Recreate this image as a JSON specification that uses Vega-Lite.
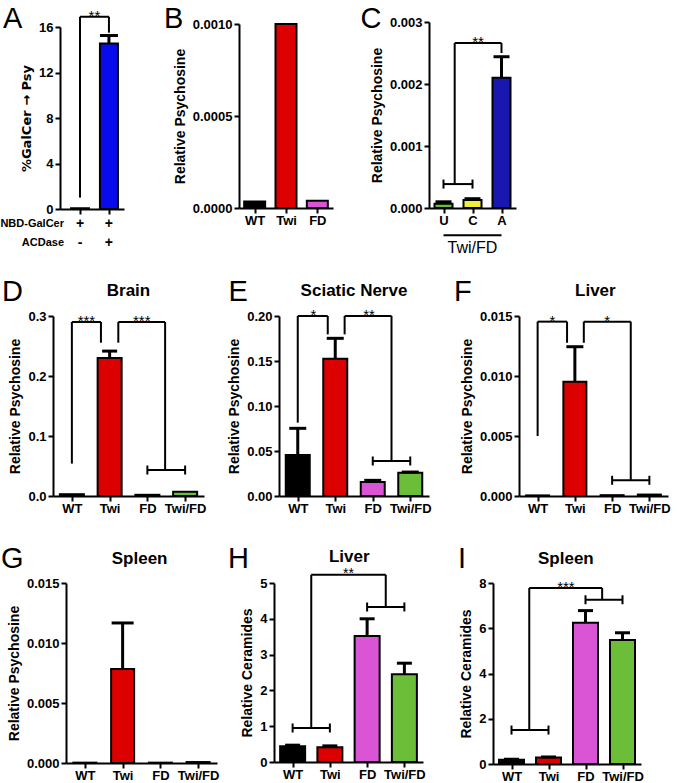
{
"$schema": "https://vega.github.io/schema/vega-lite/v6.json",
"background": "white",
"padding": {"left": 0, "top": 4, "right": 0, "bottom": 0},
"columns": 3,
"bounds": "flush",
"align": {"row": "none", "column": "each"},
"spacing": {"row": 87, "column": 0},
"config": {
  "font": "Liberation Sans",
  "view": {"stroke": null},
  "scale": {"continuousPadding": 0},
  "axis": {"domainColor": "black", "domainWidth": 2, "tickColor": "black", "tickWidth": 2, "tickSize": 5, "labelColor": "black", "labelFontSize": 13, "labelFontWeight": "bold", "titleFontSize": 14, "titleFontWeight": "bold", "titleColor": "black", "grid": false, "labelPadding": 2, "titlePadding": 5},
  "axisX": {"labelPadding": 1},
  "text": {"color": "black"}
},
"concat": [
{
 "width": 186, "height": 187,
 "encoding": {
  "x": {"field": "x", "type": "quantitative", "scale": {"domain": [-0.69, 1.52], "range": [7, 71], "nice": false, "zero": false, "padding": 0}, "axis": {"values": [0, 1], "labels": false, "title": null}},
  "y": {"field": "y", "type": "quantitative", "stack": null, "scale": {"domain": [0, 16], "range": [187, 5], "nice": false, "zero": false, "padding": 0}, "axis": {"values": [0, 4, 8, 12, 16], "format": "d", "title": "%GalCer → Psy", "titleFont": "DejaVu Sans", "titleFontSize": 13, "offset": -7}}
 },
 "layer": [
  {"data": {"values": [{"g": "GalCer", "x": 0, "y": 0.06}, {"g": "GalCer+ACDase", "x": 1, "y": 14.55}]}, "mark": {"type": "bar", "orient": "vertical", "width": 18, "stroke": "black", "strokeWidth": 2}, "encoding": {"fill": {"field": "g", "type": "nominal", "legend": null, "scale": {"domain": ["WT","Twi","FD","Twi/FD","U","C","A","GalCer","GalCer+ACDase"], "range": ["#000000","#dd0000","#d955d6","#6cbd38","#6cbd38","#f0ec3c","#1818b0","#ffffff","#0a0aee"]}}}},
  {"data": {"values": [{"x": 1, "y": 15.25, "y2": 14.55}]}, "mark": {"type": "rule", "strokeWidth": 3, "color": "black"}, "encoding": {"y2": {"field": "y2"}}},
  {"data": {"values": [{"x": 1, "y": 15.25}]}, "mark": {"type": "tick", "orient": "horizontal", "size": 18, "thickness": 3, "color": "black", "opacity": 1}},
  {"data": {"values": [{"x": 0, "x2": 0, "y": 1.0, "y2": 16.9}, {"x": 0, "x2": 1, "y": 16.9, "y2": 16.9}, {"x": 1, "x2": 1, "y": 16.9, "y2": 15.5}]}, "mark": {"type": "rule", "strokeWidth": 2, "color": "black"}, "encoding": {"x2": {"field": "x2"}, "y2": {"field": "y2"}}},
  {"data": {"values": [{"x": 0.5, "y": 16.9, "t": "**"}]}, "mark": {"type": "text", "fontSize": 15, "dy": 4, "align": "center", "baseline": "alphabetic"}, "encoding": {"text": {"field": "t"}}},
  {"data": {"values": [{"x": 0, "y": -1.345, "t": "+"}, {"x": 1, "y": -1.345, "t": "+"}, {"x": 0, "y": -2.96, "t": "-"}, {"x": 1, "y": -2.96, "t": "+"}]}, "mark": {"type": "text", "fontSize": 14, "fontWeight": "bold", "align": "center", "baseline": "middle"}, "encoding": {"text": {"field": "t"}}},
  {"data": {"values": [{"x": -0.552, "y": -1.345, "t": "NBD-GalCer"}, {"x": -0.552, "y": -2.96, "t": "ACDase"}]}, "mark": {"type": "text", "fontSize": 11, "fontWeight": "bold", "align": "right", "baseline": "middle"}, "encoding": {"text": {"field": "t"}}},
  {"data": {"values": [{"x": -2.658, "y": 15.92, "t": "A"}]}, "mark": {"type": "text", "fontSize": 29, "align": "left", "baseline": "alphabetic"}, "encoding": {"text": {"field": "t"}}}
 ]
},
{
 "width": 190, "height": 186,
 "encoding": {
  "x": {"field": "x", "type": "quantitative", "scale": {"domain": [-0.5, 2.5], "range": [0, 94], "nice": false, "zero": false, "padding": 0}, "axis": {"values": [0, 1, 2], "labelExpr": "['WT','Twi','FD'][datum.value]", "title": null}},
  "y": {"field": "y", "type": "quantitative", "stack": null, "scale": {"domain": [0, 0.001], "range": [186, 2], "nice": false, "zero": false, "padding": 0}, "axis": {"values": [0, 0.0005, 0.001], "format": ".4f", "title": "Relative Psychosine"}}
 },
 "layer": [
  {"data": {"values": [{"g": "WT", "x": 0, "y": 0.000035}, {"g": "Twi", "x": 1, "y": 0.001}, {"g": "FD", "x": 2, "y": 0.00004}]}, "mark": {"type": "bar", "orient": "vertical", "width": 21, "stroke": "black", "strokeWidth": 2}, "encoding": {"fill": {"field": "g", "type": "nominal", "legend": null, "scale": {"domain": ["WT","Twi","FD","Twi/FD","U","C","A","GalCer","GalCer+ACDase"], "range": ["#000000","#dd0000","#d955d6","#6cbd38","#6cbd38","#f0ec3c","#1818b0","#ffffff","#0a0aee"]}}}},
  {"data": {"values": [{"x": -2.89, "y": 0.000978, "t": "B"}]}, "mark": {"type": "text", "fontSize": 29, "align": "left", "baseline": "alphabetic"}, "encoding": {"text": {"field": "t"}}}
 ]
},
{
 "width": 240, "height": 186,
 "encoding": {
  "x": {"field": "x", "type": "quantitative", "scale": {"domain": [-0.5, 2.5], "range": [0, 87], "nice": false, "zero": false, "padding": 0}, "axis": {"values": [0, 1, 2], "labelExpr": "['U','C','A'][datum.value]", "title": null}},
  "y": {"field": "y", "type": "quantitative", "stack": null, "scale": {"domain": [0, 0.003], "range": [186, 0], "nice": false, "zero": false, "padding": 0}, "axis": {"values": [0, 0.001, 0.002, 0.003], "format": ".3f", "title": "Relative Psychosine"}}
 },
 "layer": [
  {"data": {"values": [{"g": "U", "x": 0, "y": 0.00007}, {"g": "C", "x": 1, "y": 0.00013}, {"g": "A", "x": 2, "y": 0.0021}]}, "mark": {"type": "bar", "orient": "vertical", "width": 18, "stroke": "black", "strokeWidth": 2}, "encoding": {"fill": {"field": "g", "type": "nominal", "legend": null, "scale": {"domain": ["WT","Twi","FD","Twi/FD","U","C","A","GalCer","GalCer+ACDase"], "range": ["#000000","#dd0000","#d955d6","#6cbd38","#6cbd38","#f0ec3c","#1818b0","#ffffff","#0a0aee"]}}}},
  {"data": {"values": [{"x": 0, "y": 0.0001, "y2": 0.00007}, {"x": 1, "y": 0.00015, "y2": 0.00013}, {"x": 2, "y": 0.00244, "y2": 0.0021}]}, "mark": {"type": "rule", "strokeWidth": 3, "color": "black"}, "encoding": {"y2": {"field": "y2"}}},
  {"data": {"values": [{"x": 0, "y": 0.0001}, {"x": 1, "y": 0.00015}, {"x": 2, "y": 0.00244}]}, "mark": {"type": "tick", "orient": "horizontal", "size": 16, "thickness": 3, "color": "black", "opacity": 1}},
  {"data": {"values": [{"x": 0, "x2": 1, "y": 0.000386, "y2": 0.000386}, {"x": 0.386, "x2": 0.386, "y": 0.000386, "y2": 0.00266}, {"x": 0.386, "x2": 2, "y": 0.00266, "y2": 0.00266}, {"x": 2, "x2": 2, "y": 0.00266, "y2": 0.0025}, {"x": 0, "x2": 2, "y": -0.00044, "y2": -0.00044}]}, "mark": {"type": "rule", "strokeWidth": 2, "color": "black"}, "encoding": {"x2": {"field": "x2"}, "y2": {"field": "y2"}}},
  {"data": {"values": [{"x": 0, "y": 0.000386}, {"x": 1, "y": 0.000386}]}, "mark": {"type": "tick", "orient": "vertical", "size": 9, "thickness": 2, "color": "black", "opacity": 1}},
  {"data": {"values": [{"x": 1.19, "y": 0.00266, "t": "**"}]}, "mark": {"type": "text", "fontSize": 15, "dy": 4, "align": "center", "baseline": "alphabetic"}, "encoding": {"text": {"field": "t"}}},
  {"data": {"values": [{"x": 1, "y": -0.000645, "t": "Twi/FD"}]}, "mark": {"type": "text", "fontSize": 16, "align": "center", "baseline": "middle"}, "encoding": {"text": {"field": "t"}}},
  {"data": {"values": [{"x": -2.86, "y": 0.0029, "t": "C"}]}, "mark": {"type": "text", "fontSize": 29, "align": "left", "baseline": "alphabetic"}, "encoding": {"text": {"field": "t"}}}
 ]
},
{
 "width": 186, "height": 200,
 "encoding": {
  "x": {"field": "x", "type": "quantitative", "scale": {"domain": [-0.5, 3.5], "range": [0, 151], "nice": false, "zero": false, "padding": 0}, "axis": {"values": [0, 1, 2, 3], "labelExpr": "['WT','Twi','FD','Twi/FD'][datum.value]", "title": null}},
  "y": {"field": "y", "type": "quantitative", "stack": null, "scale": {"domain": [0, 0.3], "range": [200, 20], "nice": false, "zero": false, "padding": 0}, "axis": {"values": [0, 0.1, 0.2, 0.3], "format": ".1f", "title": "Relative Psychosine"}}
 },
 "layer": [
  {"data": {"values": [{"g": "WT", "x": 0, "y": 0.003}, {"g": "Twi", "x": 1, "y": 0.23}, {"g": "FD", "x": 2, "y": 0.002}, {"g": "Twi/FD", "x": 3, "y": 0.007}]}, "mark": {"type": "bar", "orient": "vertical", "width": 24, "stroke": "black", "strokeWidth": 2}, "encoding": {"fill": {"field": "g", "type": "nominal", "legend": null, "scale": {"domain": ["WT","Twi","FD","Twi/FD","U","C","A","GalCer","GalCer+ACDase"], "range": ["#000000","#dd0000","#d955d6","#6cbd38","#6cbd38","#f0ec3c","#1818b0","#ffffff","#0a0aee"]}}}},
  {"data": {"values": [{"x": 1, "y": 0.2415, "y2": 0.23}]}, "mark": {"type": "rule", "strokeWidth": 3, "color": "black"}, "encoding": {"y2": {"field": "y2"}}},
  {"data": {"values": [{"x": 1, "y": 0.2415}]}, "mark": {"type": "tick", "orient": "horizontal", "size": 15, "thickness": 3, "color": "black", "opacity": 1}},
  {"data": {"values": [{"x": 0, "x2": 0, "y": 0.054, "y2": 0.29}, {"x": 0, "x2": 0.77, "y": 0.29, "y2": 0.29}, {"x": 0.77, "x2": 0.77, "y": 0.29, "y2": 0.2555}, {"x": 1.23, "x2": 1.23, "y": 0.2555, "y2": 0.29}, {"x": 1.23, "x2": 2.47, "y": 0.29, "y2": 0.29}, {"x": 2.47, "x2": 2.47, "y": 0.29, "y2": 0.0433}, {"x": 2, "x2": 3, "y": 0.0433, "y2": 0.0433}]}, "mark": {"type": "rule", "strokeWidth": 2, "color": "black"}, "encoding": {"x2": {"field": "x2"}, "y2": {"field": "y2"}}},
  {"data": {"values": [{"x": 2, "y": 0.0433}, {"x": 3, "y": 0.0433}]}, "mark": {"type": "tick", "orient": "vertical", "size": 9, "thickness": 2, "color": "black", "opacity": 1}},
  {"data": {"values": [{"x": 0.385, "y": 0.29, "t": "***"}, {"x": 1.85, "y": 0.29, "t": "***"}]}, "mark": {"type": "text", "fontSize": 15, "dy": 4, "align": "center", "baseline": "alphabetic"}, "encoding": {"text": {"field": "t"}}},
  {"data": {"values": [{"x": 1.5, "y": 0.3333, "t": "Brain"}]}, "mark": {"type": "text", "fontSize": 17, "fontWeight": "bold", "align": "center", "baseline": "alphabetic"}, "encoding": {"text": {"field": "t"}}},
  {"data": {"values": [{"x": -1.85, "y": 0.325, "t": "D"}]}, "mark": {"type": "text", "fontSize": 29, "align": "left", "baseline": "alphabetic"}, "encoding": {"text": {"field": "t"}}}
 ]
},
{
 "width": 190, "height": 200,
 "encoding": {
  "x": {"field": "x", "type": "quantitative", "scale": {"domain": [-0.5, 3.5], "range": [40, 190], "nice": false, "zero": false, "padding": 0}, "axis": {"values": [0, 1, 2, 3], "labelExpr": "['WT','Twi','FD','Twi/FD'][datum.value]", "title": null}},
  "y": {"field": "y", "type": "quantitative", "stack": null, "scale": {"domain": [0, 0.2], "range": [200, 20], "nice": false, "zero": false, "padding": 0}, "axis": {"values": [0, 0.05, 0.1, 0.15, 0.2], "format": ".2f", "title": "Relative Psychosine", "offset": -40}}
 },
 "layer": [
  {"data": {"values": [{"g": "WT", "x": 0, "y": 0.0456}, {"g": "Twi", "x": 1, "y": 0.1526}, {"g": "FD", "x": 2, "y": 0.0156}, {"g": "Twi/FD", "x": 3, "y": 0.0259}]}, "mark": {"type": "bar", "orient": "vertical", "width": 24, "stroke": "black", "strokeWidth": 2}, "encoding": {"fill": {"field": "g", "type": "nominal", "legend": null, "scale": {"domain": ["WT","Twi","FD","Twi/FD","U","C","A","GalCer","GalCer+ACDase"], "range": ["#000000","#dd0000","#d955d6","#6cbd38","#6cbd38","#f0ec3c","#1818b0","#ffffff","#0a0aee"]}}}},
  {"data": {"values": [{"x": 0, "y": 0.0752, "y2": 0.0456}, {"x": 1, "y": 0.1752, "y2": 0.1526}, {"x": 2, "y": 0.0174, "y2": 0.0156}, {"x": 3, "y": 0.0266, "y2": 0.0259}]}, "mark": {"type": "rule", "strokeWidth": 3, "color": "black"}, "encoding": {"y2": {"field": "y2"}}},
  {"data": {"values": [{"x": 0, "y": 0.0752}, {"x": 1, "y": 0.1752}, {"x": 2, "y": 0.0174}, {"x": 3, "y": 0.0266}]}, "mark": {"type": "tick", "orient": "horizontal", "size": 17, "thickness": 3, "color": "black", "opacity": 1}},
  {"data": {"values": [{"x": 0, "x2": 0, "y": 0.0815, "y2": 0.2}, {"x": 0, "x2": 0.8, "y": 0.2, "y2": 0.2}, {"x": 0.8, "x2": 0.8, "y": 0.2, "y2": 0.1796}, {"x": 1.25, "x2": 1.25, "y": 0.1796, "y2": 0.2}, {"x": 1.25, "x2": 2.5, "y": 0.2, "y2": 0.2}, {"x": 2.5, "x2": 2.5, "y": 0.2, "y2": 0.0389}, {"x": 2, "x2": 3, "y": 0.0389, "y2": 0.0389}]}, "mark": {"type": "rule", "strokeWidth": 2, "color": "black"}, "encoding": {"x2": {"field": "x2"}, "y2": {"field": "y2"}}},
  {"data": {"values": [{"x": 2, "y": 0.0389}, {"x": 3, "y": 0.0389}]}, "mark": {"type": "tick", "orient": "vertical", "size": 9, "thickness": 2, "color": "black", "opacity": 1}},
  {"data": {"values": [{"x": 0.42, "y": 0.2, "t": "*"}, {"x": 1.9, "y": 0.2, "t": "**"}]}, "mark": {"type": "text", "fontSize": 15, "dy": 4, "align": "center", "baseline": "alphabetic"}, "encoding": {"text": {"field": "t"}}},
  {"data": {"values": [{"x": 1.5, "y": 0.2222, "t": "Sciatic Nerve"}]}, "mark": {"type": "text", "fontSize": 17, "fontWeight": "bold", "align": "center", "baseline": "alphabetic"}, "encoding": {"text": {"field": "t"}}},
  {"data": {"values": [{"x": -1.85, "y": 0.2167, "t": "E"}]}, "mark": {"type": "text", "fontSize": 29, "align": "left", "baseline": "alphabetic"}, "encoding": {"text": {"field": "t"}}}
 ]
},
{
 "width": 240, "height": 200,
 "encoding": {
  "x": {"field": "x", "type": "quantitative", "scale": {"domain": [-0.5, 3.5], "range": [90, 239], "nice": false, "zero": false, "padding": 0}, "axis": {"values": [0, 1, 2, 3], "labelExpr": "['WT','Twi','FD','Twi/FD'][datum.value]", "title": null}},
  "y": {"field": "y", "type": "quantitative", "stack": null, "scale": {"domain": [0, 0.015], "range": [200, 20], "nice": false, "zero": false, "padding": 0}, "axis": {"values": [0, 0.005, 0.01, 0.015], "format": ".3f", "title": "Relative Psychosine", "offset": -90}}
 },
 "layer": [
  {"data": {"values": [{"g": "WT", "x": 0, "y": 0.00005}, {"g": "Twi", "x": 1, "y": 0.00953}, {"g": "FD", "x": 2, "y": 0.00007}, {"g": "Twi/FD", "x": 3, "y": 0.00012}]}, "mark": {"type": "bar", "orient": "vertical", "width": 23, "stroke": "black", "strokeWidth": 2}, "encoding": {"fill": {"field": "g", "type": "nominal", "legend": null, "scale": {"domain": ["WT","Twi","FD","Twi/FD","U","C","A","GalCer","GalCer+ACDase"], "range": ["#000000","#dd0000","#d955d6","#6cbd38","#6cbd38","#f0ec3c","#1818b0","#ffffff","#0a0aee"]}}}},
  {"data": {"values": [{"x": 1, "y": 0.01244, "y2": 0.00953}]}, "mark": {"type": "rule", "strokeWidth": 3, "color": "black"}, "encoding": {"y2": {"field": "y2"}}},
  {"data": {"values": [{"x": 1, "y": 0.01244}]}, "mark": {"type": "tick", "orient": "horizontal", "size": 17, "thickness": 3, "color": "black", "opacity": 1}},
  {"data": {"values": [{"x": 0, "x2": 0, "y": 0.005, "y2": 0.01453}, {"x": 0, "x2": 0.79, "y": 0.01453, "y2": 0.01453}, {"x": 0.79, "x2": 0.79, "y": 0.01453, "y2": 0.01277}, {"x": 1.24, "x2": 1.24, "y": 0.01277, "y2": 0.01453}, {"x": 1.24, "x2": 2.5, "y": 0.01453, "y2": 0.01453}, {"x": 2.5, "x2": 2.5, "y": 0.01453, "y2": 0.00131}, {"x": 2, "x2": 3, "y": 0.00131, "y2": 0.00131}]}, "mark": {"type": "rule", "strokeWidth": 2, "color": "black"}, "encoding": {"x2": {"field": "x2"}, "y2": {"field": "y2"}}},
  {"data": {"values": [{"x": 2, "y": 0.00131}, {"x": 3, "y": 0.00131}]}, "mark": {"type": "tick", "orient": "vertical", "size": 9, "thickness": 2, "color": "black", "opacity": 1}},
  {"data": {"values": [{"x": 0.4, "y": 0.01453, "t": "*"}, {"x": 1.87, "y": 0.01453, "t": "*"}]}, "mark": {"type": "text", "fontSize": 15, "dy": 4, "align": "center", "baseline": "alphabetic"}, "encoding": {"text": {"field": "t"}}},
  {"data": {"values": [{"x": 1.55, "y": 0.01667, "t": "Liver"}]}, "mark": {"type": "text", "fontSize": 17, "fontWeight": "bold", "align": "center", "baseline": "alphabetic"}, "encoding": {"text": {"field": "t"}}},
  {"data": {"values": [{"x": -2.245, "y": 0.01625, "t": "F"}]}, "mark": {"type": "text", "fontSize": 29, "align": "left", "baseline": "alphabetic"}, "encoding": {"text": {"field": "t"}}}
 ]
},
{
 "width": 186, "height": 180,
 "encoding": {
  "x": {"field": "x", "type": "quantitative", "scale": {"domain": [-0.5, 3.5], "range": [13, 164], "nice": false, "zero": false, "padding": 0}, "axis": {"values": [0, 1, 2, 3], "labelExpr": "['WT','Twi','FD','Twi/FD'][datum.value]", "title": null}},
  "y": {"field": "y", "type": "quantitative", "stack": null, "scale": {"domain": [0, 0.015], "range": [180, 0], "nice": false, "zero": false, "padding": 0}, "axis": {"values": [0, 0.005, 0.01, 0.015], "format": ".3f", "title": "Relative Psychosine", "offset": -13}}
 },
 "layer": [
  {"data": {"values": [{"g": "WT", "x": 0, "y": 0.00003}, {"g": "Twi", "x": 1, "y": 0.00783}, {"g": "FD", "x": 2, "y": 0.00003}, {"g": "Twi/FD", "x": 3, "y": 0.00008}]}, "mark": {"type": "bar", "orient": "vertical", "width": 23, "stroke": "black", "strokeWidth": 2}, "encoding": {"fill": {"field": "g", "type": "nominal", "legend": null, "scale": {"domain": ["WT","Twi","FD","Twi/FD","U","C","A","GalCer","GalCer+ACDase"], "range": ["#000000","#dd0000","#d955d6","#6cbd38","#6cbd38","#f0ec3c","#1818b0","#ffffff","#0a0aee"]}}}},
  {"data": {"values": [{"x": 1, "y": 0.01167, "y2": 0.00783}]}, "mark": {"type": "rule", "strokeWidth": 3, "color": "black"}, "encoding": {"y2": {"field": "y2"}}},
  {"data": {"values": [{"x": 1, "y": 0.01167}]}, "mark": {"type": "tick", "orient": "horizontal", "size": 22, "thickness": 3, "color": "black", "opacity": 1}},
  {"data": {"values": [{"x": 1.45, "y": 0.0166, "t": "Spleen"}]}, "mark": {"type": "text", "fontSize": 17, "fontWeight": "bold", "align": "center", "baseline": "alphabetic"}, "encoding": {"text": {"field": "t"}}},
  {"data": {"values": [{"x": -2.22, "y": 0.01625, "t": "G"}]}, "mark": {"type": "text", "fontSize": 29, "align": "left", "baseline": "alphabetic"}, "encoding": {"text": {"field": "t"}}}
 ]
},
{
 "width": 190, "height": 179,
 "encoding": {
  "x": {"field": "x", "type": "quantitative", "scale": {"domain": [-0.5, 3.5], "range": [35, 184], "nice": false, "zero": false, "padding": 0}, "axis": {"values": [0, 1, 2, 3], "labelExpr": "['WT','Twi','FD','Twi/FD'][datum.value]", "title": null}},
  "y": {"field": "y", "type": "quantitative", "stack": null, "scale": {"domain": [0, 5], "range": [179, 0], "nice": false, "zero": false, "padding": 0}, "axis": {"values": [0, 1, 2, 3, 4, 5], "format": "d", "title": "Relative Ceramides", "offset": -35}}
 },
 "layer": [
  {"data": {"values": [{"g": "WT", "x": 0, "y": 0.44}, {"g": "Twi", "x": 1, "y": 0.41}, {"g": "FD", "x": 2, "y": 3.52}, {"g": "Twi/FD", "x": 3, "y": 2.45}]}, "mark": {"type": "bar", "orient": "vertical", "width": 25, "stroke": "black", "strokeWidth": 2}, "encoding": {"fill": {"field": "g", "type": "nominal", "legend": null, "scale": {"domain": ["WT","Twi","FD","Twi/FD","U","C","A","GalCer","GalCer+ACDase"], "range": ["#000000","#dd0000","#d955d6","#6cbd38","#6cbd38","#f0ec3c","#1818b0","#ffffff","#0a0aee"]}}}},
  {"data": {"values": [{"x": 0, "y": 0.47, "y2": 0.44}, {"x": 1, "y": 0.45, "y2": 0.41}, {"x": 2, "y": 4.0, "y2": 3.52}, {"x": 3, "y": 2.76, "y2": 2.45}]}, "mark": {"type": "rule", "strokeWidth": 3, "color": "black"}, "encoding": {"y2": {"field": "y2"}}},
  {"data": {"values": [{"x": 0, "y": 0.47}, {"x": 1, "y": 0.45}, {"x": 2, "y": 4.0}, {"x": 3, "y": 2.76}]}, "mark": {"type": "tick", "orient": "horizontal", "size": 15, "thickness": 3, "color": "black", "opacity": 1}},
  {"data": {"values": [{"x": 0, "x2": 1, "y": 0.95, "y2": 0.95}, {"x": 0.5, "x2": 0.5, "y": 0.95, "y2": 5.23}, {"x": 0.5, "x2": 2.5, "y": 5.23, "y2": 5.23}, {"x": 2.5, "x2": 2.5, "y": 5.23, "y2": 4.33}, {"x": 2, "x2": 3, "y": 4.33, "y2": 4.33}]}, "mark": {"type": "rule", "strokeWidth": 2, "color": "black"}, "encoding": {"x2": {"field": "x2"}, "y2": {"field": "y2"}}},
  {"data": {"values": [{"x": 0, "y": 0.95}, {"x": 1, "y": 0.95}, {"x": 2, "y": 4.33}, {"x": 3, "y": 4.33}]}, "mark": {"type": "tick", "orient": "vertical", "size": 9, "thickness": 2, "color": "black", "opacity": 1}},
  {"data": {"values": [{"x": 1.5, "y": 5.23, "t": "**"}]}, "mark": {"type": "text", "fontSize": 14, "dy": 3, "align": "center", "baseline": "alphabetic"}, "encoding": {"text": {"field": "t"}}},
  {"data": {"values": [{"x": 1.52, "y": 5.6, "t": "Liver"}]}, "mark": {"type": "text", "fontSize": 17, "fontWeight": "bold", "align": "center", "baseline": "alphabetic"}, "encoding": {"text": {"field": "t"}}},
  {"data": {"values": [{"x": -1.735, "y": 5.42, "t": "H"}]}, "mark": {"type": "text", "fontSize": 29, "align": "left", "baseline": "alphabetic"}, "encoding": {"text": {"field": "t"}}}
 ]
},
{
 "width": 240, "height": 181,
 "encoding": {
  "x": {"field": "x", "type": "quantitative", "scale": {"domain": [-0.5, 3.5], "range": [64, 212], "nice": false, "zero": false, "padding": 0}, "axis": {"values": [0, 1, 2, 3], "labelExpr": "['WT','Twi','FD','Twi/FD'][datum.value]", "title": null}},
  "y": {"field": "y", "type": "quantitative", "stack": null, "scale": {"domain": [0, 8], "range": [181, 0], "nice": false, "zero": false, "padding": 0}, "axis": {"values": [0, 2, 4, 6, 8], "format": "d", "title": "Relative Ceramides", "offset": -64}}
 },
 "layer": [
  {"data": {"values": [{"g": "WT", "x": 0, "y": 0.19}, {"g": "Twi", "x": 1, "y": 0.29}, {"g": "FD", "x": 2, "y": 6.24}, {"g": "Twi/FD", "x": 3, "y": 5.48}]}, "mark": {"type": "bar", "orient": "vertical", "width": 25, "stroke": "black", "strokeWidth": 2}, "encoding": {"fill": {"field": "g", "type": "nominal", "legend": null, "scale": {"domain": ["WT","Twi","FD","Twi/FD","U","C","A","GalCer","GalCer+ACDase"], "range": ["#000000","#dd0000","#d955d6","#6cbd38","#6cbd38","#f0ec3c","#1818b0","#ffffff","#0a0aee"]}}}},
  {"data": {"values": [{"x": 0, "y": 0.21, "y2": 0.19}, {"x": 1, "y": 0.31, "y2": 0.29}, {"x": 2, "y": 6.78, "y2": 6.24}, {"x": 3, "y": 5.8, "y2": 5.48}]}, "mark": {"type": "rule", "strokeWidth": 3, "color": "black"}, "encoding": {"y2": {"field": "y2"}}},
  {"data": {"values": [{"x": 0, "y": 0.21}, {"x": 1, "y": 0.31}, {"x": 2, "y": 6.78}, {"x": 3, "y": 5.8}]}, "mark": {"type": "tick", "orient": "horizontal", "size": 15, "thickness": 3, "color": "black", "opacity": 1}},
  {"data": {"values": [{"x": 0, "x2": 1, "y": 1.5, "y2": 1.5}, {"x": 0.48, "x2": 0.48, "y": 1.5, "y2": 7.78}, {"x": 0.48, "x2": 2.45, "y": 7.78, "y2": 7.78}, {"x": 2.45, "x2": 2.45, "y": 7.78, "y2": 7.26}, {"x": 2, "x2": 3, "y": 7.26, "y2": 7.26}]}, "mark": {"type": "rule", "strokeWidth": 2, "color": "black"}, "encoding": {"x2": {"field": "x2"}, "y2": {"field": "y2"}}},
  {"data": {"values": [{"x": 0, "y": 1.5}, {"x": 1, "y": 1.5}, {"x": 2, "y": 7.26}, {"x": 3, "y": 7.26}]}, "mark": {"type": "tick", "orient": "vertical", "size": 9, "thickness": 2, "color": "black", "opacity": 1}},
  {"data": {"values": [{"x": 1.47, "y": 7.78, "t": "***"}]}, "mark": {"type": "text", "fontSize": 15, "dy": 4, "align": "center", "baseline": "alphabetic"}, "encoding": {"text": {"field": "t"}}},
  {"data": {"values": [{"x": 1.47, "y": 8.85, "t": "Spleen"}]}, "mark": {"type": "text", "fontSize": 17, "fontWeight": "bold", "align": "center", "baseline": "alphabetic"}, "encoding": {"text": {"field": "t"}}},
  {"data": {"values": [{"x": -1.446, "y": 8.66, "t": "I"}]}, "mark": {"type": "text", "fontSize": 29, "align": "left", "baseline": "alphabetic"}, "encoding": {"text": {"field": "t"}}}
 ]
}
]
}
